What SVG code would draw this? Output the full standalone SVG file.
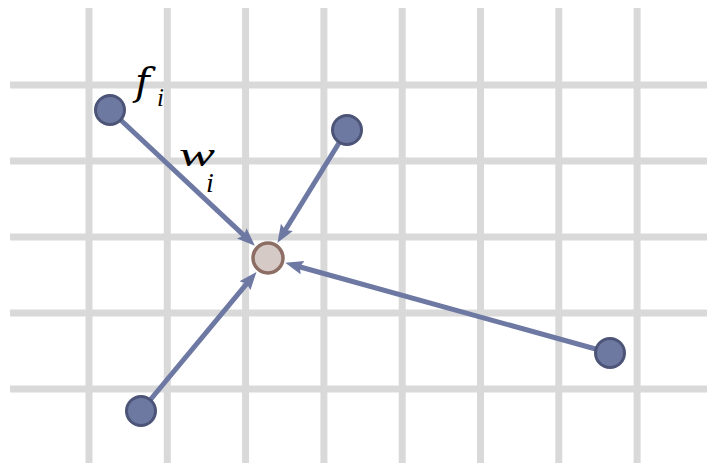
<svg xmlns="http://www.w3.org/2000/svg" width="707" height="467" viewBox="0 0 707 467">
<style>
.grid line{stroke:#d9d9d9;stroke-width:7}
.node{fill:#6e79a1;stroke:#4c5478;stroke-width:3}
.center{fill:#d6cac6;stroke:#8c6e64;stroke-width:3.5}
.conn line{stroke:#6d78a3;stroke-width:5;marker-end:url(#ah)}
.lbl{font-family:"Liberation Serif","Times New Roman",serif;font-style:italic;font-weight:normal;fill:#000}
.lblf{font-family:"DejaVu Serif","Liberation Serif",serif;font-style:italic;font-weight:normal;fill:#000}
</style>
<defs>
<marker id="ah" markerUnits="userSpaceOnUse" markerWidth="20" markerHeight="16" refX="8" refY="7" orient="auto" viewBox="0 0 20 16">
<path d="M0,0 L18,7 L0,14 L3,7 z" fill="#6d78a3"/>
</marker>
</defs>
<rect width="707" height="467" fill="#fff"/>
<g class="grid">
<line x1="89" y1="8" x2="89" y2="463"/>
<line x1="167.3" y1="8" x2="167.3" y2="463"/>
<line x1="245.6" y1="8" x2="245.6" y2="463"/>
<line x1="323.9" y1="8" x2="323.9" y2="463"/>
<line x1="402.2" y1="8" x2="402.2" y2="463"/>
<line x1="480.5" y1="8" x2="480.5" y2="463"/>
<line x1="558.8" y1="8" x2="558.8" y2="463"/>
<line x1="637.1" y1="8" x2="637.1" y2="463"/>
<line x1="10" y1="85" x2="707" y2="85"/>
<line x1="10" y1="161" x2="707" y2="161"/>
<line x1="10" y1="237" x2="707" y2="237"/>
<line x1="10" y1="313" x2="707" y2="313"/>
<line x1="10" y1="389" x2="707" y2="389"/>
</g>
<g id="connectors" class="conn">
<line x1="110" y1="110" x2="247.6" y2="238.9"/>
<line x1="347" y1="130" x2="282.7" y2="234.2"/>
<line x1="610" y1="353" x2="294.9" y2="265.5"/>
<line x1="141" y1="411" x2="250.1" y2="279.6"/>
</g>
<g id="node-f"><circle class="node" cx="110" cy="110" r="14.5"/></g>
<g id="node-b"><circle class="node" cx="347" cy="130" r="14.5"/></g>
<g id="node-d"><circle class="node" cx="610" cy="353" r="14.5"/></g>
<g id="node-e"><circle class="node" cx="141" cy="411" r="14.5"/></g>
<g id="node-center"><circle class="center" cx="268" cy="258" r="15"/></g>
<g id="labels">
<text class="lblf" x="135" y="95" font-size="40">f</text>
<text class="lbl" x="157" y="106" font-size="25">i</text>
<text class="lbl" x="179" y="166" font-size="34" textLength="36" lengthAdjust="spacingAndGlyphs">w</text>
<text class="lbl" x="206" y="192" font-size="28">i</text>
</g>
</svg>
